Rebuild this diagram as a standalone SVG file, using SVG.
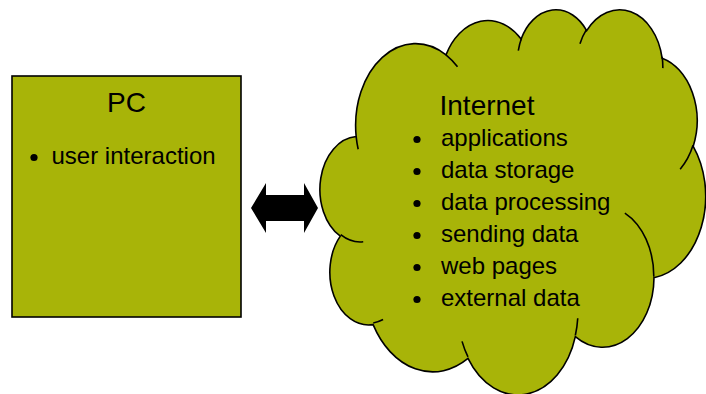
<svg xmlns="http://www.w3.org/2000/svg" width="706" height="394" viewBox="0 0 706 394">
  <style>
    .shape { fill: #A8B408; stroke: #000; stroke-width: 1.6; }
    .inner { fill: none; stroke: #000; stroke-width: 1.6; }
    .title { font-family: "Liberation Sans", Arial, sans-serif; font-size: 28px; fill: #000; }
    .item { font-family: "Liberation Sans", Arial, sans-serif; font-size: 24px; fill: #000; }
    .dot { fill: #000; }
  </style>
  <rect width="706" height="394" fill="#fff"/>

  <g id="node-pc">
    <rect class="shape" x="12" y="76" width="229" height="241"/>
    <text class="title" x="126.5" y="112" text-anchor="middle">PC</text>
    <circle class="dot" cx="34" cy="157.5" r="3.6"/>
    <text class="item" x="51.5" y="164">user interaction</text>
  </g>

  <g id="node-internet">
    <g transform="translate(321.5 8.5) scale(0.0088889 0.008912)">
      <path class="shape" vector-effect="non-scaling-stroke" d="M3900,14370 A6753,9190 0 0 1 14005,5202 A5333,7267 0 0 1 22457,3433 A4365,5945 0 0 1 29834,2482 A4857,6595 0 0 1 38320,5576 A5333,7273 0 0 1 41821,15459 A6775,9220 0 0 1 37406,30202 A5785,7867 0 0 1 28558,36812 A6752,9215 0 0 1 16482,39265 A7720,10543 0 0 1 5806,35468 A4360,5918 0 0 1 2115,25546 A4345,5945 0 0 1 3900,14370 Z"/>
      <path class="inner" vector-effect="non-scaling-stroke" d="M4693,26177 A4345,5945 0 0 1 2160,25380 M6928,34899 A4360,5918 0 0 1 5819,35281 M16478,39090 A6752,9215 0 0 1 15810,37349 M28827,34751 A6752,9215 0 0 1 28561,36659 M34129,22954 A5785,7867 0 0 1 37381,30090 M41798,15354 A5333,7273 0 0 1 40350,18030 M38324,5426 A4857,6595 0 0 1 38400,6690 M29078,3952 A4857,6595 0 0 1 29819,2343 M22141,4720 A4365,5945 0 0 1 22500,3330 M14000,5192 A6753,9190 0 0 1 15302,6543 M4127,15789 A6753,9190 0 0 1 3900,14371"/>
    </g>
    <text class="title" x="439.5" y="115">Internet</text>
    <circle class="dot" cx="417" cy="139.5" r="3.6"/>
    <text class="item" x="441" y="146">applications</text>
    <circle class="dot" cx="417" cy="171.5" r="3.6"/>
    <text class="item" x="441" y="178">data storage</text>
    <circle class="dot" cx="417" cy="203.5" r="3.6"/>
    <text class="item" x="441" y="210">data processing</text>
    <circle class="dot" cx="417" cy="235.5" r="3.6"/>
    <text class="item" x="441" y="242">sending data</text>
    <circle class="dot" cx="417" cy="267.5" r="3.6"/>
    <text class="item" x="441" y="274">web pages</text>
    <circle class="dot" cx="417" cy="299.5" r="3.6"/>
    <text class="item" x="441" y="306">external data</text>
  </g>

  <g id="connectors">
    <polygon fill="#000" points="251,208 266,183 266,195 304,195 304,183 318,208 304,233 304,221 266,221 266,233"/>
  </g>
</svg>
